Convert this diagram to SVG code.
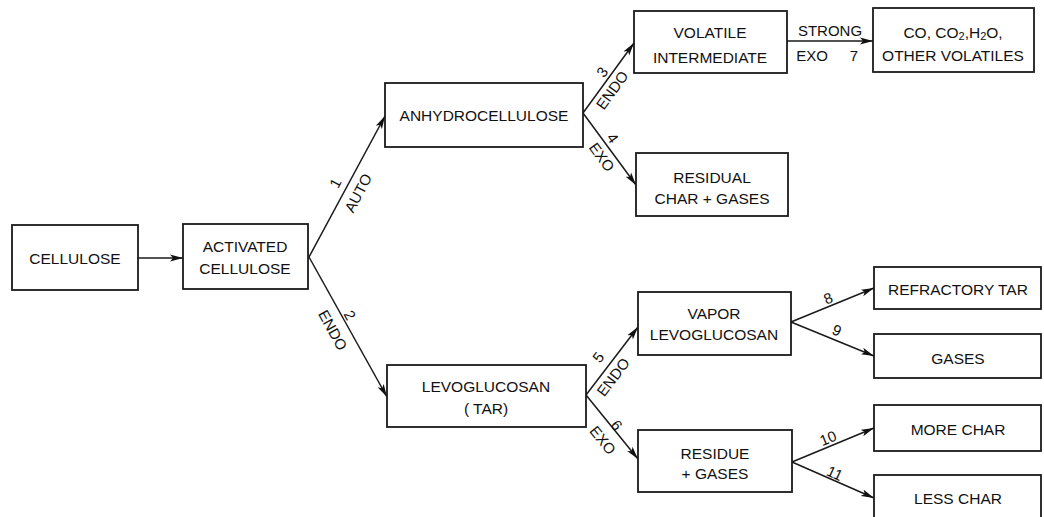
<svg xmlns="http://www.w3.org/2000/svg" width="1044" height="517" viewBox="0 0 1044 517">
<style>
.box{fill:#fff;stroke:#1a1a1a;stroke-width:1.8}
.t{font-family:"Liberation Sans",Arial,sans-serif;font-size:15.5px;fill:#111;text-anchor:middle;dominant-baseline:central}
.l{font-family:"Liberation Sans",Arial,sans-serif;font-size:15px;fill:#111;text-anchor:middle;dominant-baseline:central}
.c{fill:none;stroke:#1a1a1a;stroke-width:1.5}
</style>
<defs>
<marker id="ah" markerUnits="userSpaceOnUse" markerWidth="14" markerHeight="8" refX="13" refY="4" orient="auto">
<path d="M0,0.5 L13,4 L0,7.5 L3,4 z" fill="#111"/>
</marker>
</defs>
<rect width="1044" height="517" fill="#fff"/>
<g id="connectors">
<line class="c" x1="138" y1="258" x2="183" y2="258" marker-end="url(#ah)"/>
<line class="c" x1="309" y1="257" x2="385" y2="116" marker-end="url(#ah)"/>
<line class="c" x1="309" y1="257" x2="387" y2="397" marker-end="url(#ah)"/>
<line class="c" x1="583" y1="113" x2="634" y2="43" marker-end="url(#ah)"/>
<line class="c" x1="583" y1="113" x2="636" y2="185" marker-end="url(#ah)"/>
<line class="c" x1="787" y1="41" x2="873" y2="41" marker-end="url(#ah)"/>
<line class="c" x1="586" y1="395" x2="638" y2="327" marker-end="url(#ah)"/>
<line class="c" x1="586" y1="395" x2="638" y2="459" marker-end="url(#ah)"/>
<line class="c" x1="791" y1="322" x2="874" y2="288" marker-end="url(#ah)"/>
<line class="c" x1="791" y1="322" x2="874" y2="356" marker-end="url(#ah)"/>
<line class="c" x1="792" y1="462" x2="874" y2="428" marker-end="url(#ah)"/>
<line class="c" x1="792" y1="462" x2="874" y2="498" marker-end="url(#ah)"/>
<text class="l" transform="translate(335,183) rotate(-62)">1</text>
<text class="l" transform="translate(358,193) rotate(-62)">AUTO</text>
<text class="l" transform="translate(350,315) rotate(61)">2</text>
<text class="l" transform="translate(333,330) rotate(61)">ENDO</text>
<text class="l" transform="translate(602,72) rotate(-54)">3</text>
<text class="l" transform="translate(612,90) rotate(-54)">ENDO</text>
<text class="l" transform="translate(613,138) rotate(54)">4</text>
<text class="l" transform="translate(602,157) rotate(54)">EXO</text>
<text class="l" transform="translate(598,357) rotate(-53)">5</text>
<text class="l" transform="translate(613,377) rotate(-53)">ENDO</text>
<text class="l" transform="translate(617,425) rotate(51)">6</text>
<text class="l" transform="translate(603,440) rotate(51)">EXO</text>
<text class="l" x="830" y="30">STRONG</text>
<text class="l" x="812" y="55">EXO</text>
<text class="l" x="854" y="55">7</text>
<text class="l" transform="translate(828,298) rotate(-22)">8</text>
<text class="l" transform="translate(837,330) rotate(23)">9</text>
<text class="l" transform="translate(828,438) rotate(-22)">10</text>
<text class="l" transform="translate(835,473) rotate(25)">11</text>
</g>
<g id="cellulose"><rect class="box" x="12" y="225" width="126" height="65"/><text class="t" x="75" y="258">CELLULOSE</text></g>
<g id="activated"><rect class="box" x="183" y="224" width="125" height="65"/><text class="t" x="245" y="246">ACTIVATED</text><text class="t" x="245" y="268">CELLULOSE</text></g>
<g id="anhydro"><rect class="box" x="385" y="83" width="198" height="64"/><text class="t" x="484" y="115">ANHYDROCELLULOSE</text></g>
<g id="levo"><rect class="box" x="387" y="365" width="199" height="62"/><text class="t" x="486" y="386">LEVOGLUCOSAN</text><text class="t" x="486" y="408">( TAR)</text></g>
<g id="volatile"><rect class="box" x="634" y="11" width="153" height="62"/><text class="t" x="710" y="32">VOLATILE</text><text class="t" x="710" y="57">INTERMEDIATE</text></g>
<g id="residual"><rect class="box" x="636" y="153" width="152" height="63"/><text class="t" x="712" y="177">RESIDUAL</text><text class="t" x="712" y="198">CHAR + GASES</text></g>
<g id="co"><rect class="box" x="873" y="8" width="161" height="64"/><text class="t" x="953" y="32">CO, CO<tspan font-size="11" dy="4">2</tspan><tspan dy="-4">,H</tspan><tspan font-size="11" dy="4">2</tspan><tspan dy="-4">O,</tspan></text><text class="t" x="953" y="55">OTHER VOLATILES</text></g>
<g id="vapor"><rect class="box" x="638" y="292" width="153" height="63"/><text class="t" x="714" y="313">VAPOR</text><text class="t" x="714" y="334">LEVOGLUCOSAN</text></g>
<g id="residue"><rect class="box" x="638" y="430" width="154" height="62"/><text class="t" x="715" y="453">RESIDUE</text><text class="t" x="715" y="473">+ GASES</text></g>
<g id="refractory"><rect class="box" x="874" y="267" width="167" height="42"/><text class="t" x="958" y="289">REFRACTORY TAR</text></g>
<g id="gases"><rect class="box" x="874" y="334" width="167" height="44"/><text class="t" x="958" y="358">GASES</text></g>
<g id="morechar"><rect class="box" x="874" y="405" width="167" height="46"/><text class="t" x="958" y="429">MORE CHAR</text></g>
<g id="lesschar"><rect class="box" x="874" y="475" width="167" height="46"/><text class="t" x="958" y="498">LESS CHAR</text></g>
</svg>
